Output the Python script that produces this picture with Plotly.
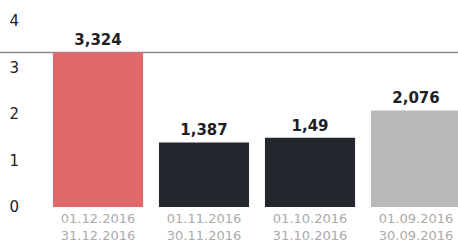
import plotly.graph_objects as go

categories = ["01.12.2016<br>31.12.2016", "01.11.2016<br>30.11.2016",
              "01.10.2016<br>31.10.2016", "01.09.2016<br>30.09.2016"]
values = [3.324, 1.387, 1.49, 2.076]
bar_colors = ["#e2696b", "#24272e", "#24272e", "#b9b9bb"]
y_ticks = [0, 1, 2, 3, 4]

labels = [str(v).replace(".", ",") for v in values]

fig = go.Figure()
fig.add_trace(go.Bar(
    x=list(range(len(categories))), y=values,
    marker=dict(color=bar_colors, line=dict(width=0)),
    text=labels, textposition="outside", cliponaxis=False,
    textfont=dict(family="DejaVu Sans", size=15, color="#1e2026", weight="bold"),
    width=0.85, hoverinfo="skip",
))
fig.add_shape(type="line", xref="paper", x0=-0.2, x1=1.0, yref="y",
              y0=max(values), y1=max(values),
              line=dict(color="#8a8a8a", width=1.5), layer="below")
fig.update_layout(
    width=458, height=243,
    margin=dict(l=45, r=0, t=0, b=36),
    plot_bgcolor="white", paper_bgcolor="white",
    showlegend=False,
    xaxis=dict(
        tickmode="array", tickvals=list(range(len(categories))), ticktext=categories,
        range=[-0.5, 3.396], showgrid=False, zeroline=False, showline=False,
        tickfont=dict(family="DejaVu Sans", size=13, color="#ababab"),
        ticks="", ticklabelstandoff=2, automargin=False,
    ),
    yaxis=dict(
        range=[0, 4.45], tickvals=y_ticks, showgrid=False, zeroline=False,
        showline=False, ticks="", automargin=False,
        tickfont=dict(family="DejaVu Sans", size=15, color="#1e2026"),
        ticklabelstandoff=25,
    ),
)
fig.write_html("out.html", config={"displayModeBar": False, "staticPlot": True},
               post_script="document.body.style.margin='0';document.body.style.overflow='hidden';")
